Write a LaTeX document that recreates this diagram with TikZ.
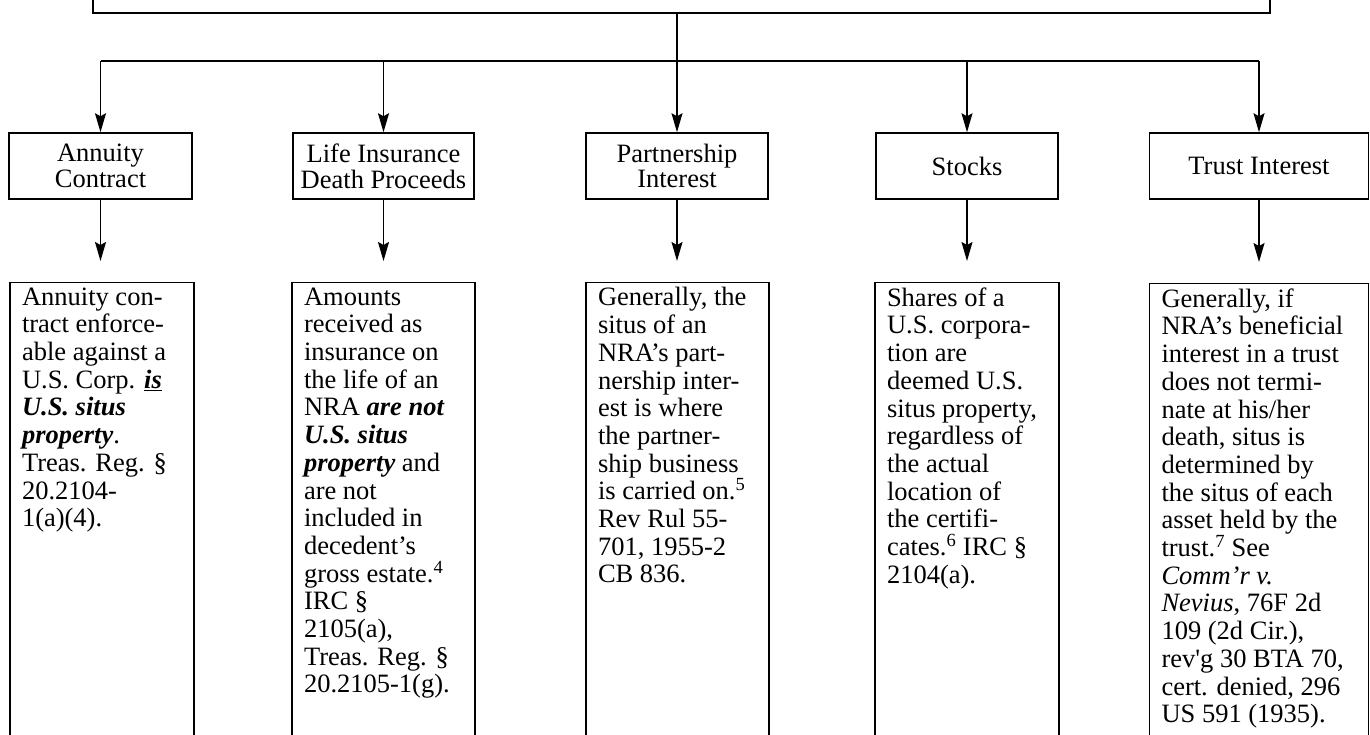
\documentclass[tikz,border=0pt]{standalone}
\usepackage{fontspec}
\setmainfont{Liberation Serif}
\usetikzlibrary{arrows.meta}

\tikzset{
  etiqueta/.style={draw, line width=1.5pt, minimum height=66pt, inner sep=0pt, align=center, font=\fontsize{26.5pt}{25.8pt}\selectfont},
  texto/.style={draw, line width=1.2pt, anchor=north, inner xsep=12pt, inner ysep=5pt, font=\fontsize{26.5pt}{27.7pt}\selectfont},
  flecha/.style={line width=1.3pt, -{Stealth[length=19pt, width=11pt, inset=3pt]}},
  linea/.style={line width=1.3pt}
}

\begin{document}
\begin{tikzpicture}[x=1pt, y=-1pt]
  \useasboundingbox (0,0) rectangle (1370,734);
  \clip (0,0) rectangle (1370,734);

  % Caja superior (cortada por el borde)
  \node[draw, line width=1.8pt, minimum width=1177pt, minimum height=100pt, anchor=south] (raiz) at (681.5,14) {};

  % Barra de reparto
  \coordinate (bus) at (0,61);

  % Categorias
  \node[etiqueta, minimum width=183pt] (anualidad) at (100.5,166) {Annuity\\Contract};
  \node[etiqueta, minimum width=181pt] (seguro) at (383.5,166) {Life Insurance\\Death Proceeds};
  \node[etiqueta, minimum width=182pt] (sociedad) at (677,166) {Partnership\\Interest};
  \node[etiqueta, minimum width=182pt] (acciones) at (967,166) {Stocks};
  \node[etiqueta, minimum width=219pt] (fideicomiso) at (1259,166) {Trust Interest};

  % Textos
  \node[texto] (anualidadtxt) at (102,282) {\parbox[t][460pt][t]{160pt}{\raggedright
    Annuity con-\\ tract enforce-\\ able against a\\
    U.S. Corp. \underline{\textbf{\textit{is}}}\\ \textbf{\textit{U.S. situs}}\\
    \textbf{\textit{property}}.\\ Treas. Reg. §\\ 20.2104-\\ 1(a)(4).}};
  \node[texto] (segurotxt) at (383.5,282) {\parbox[t][460pt][t]{159pt}{\raggedright
    Amounts\\ received as\\ insurance on\\ the life of an\\
    NRA \textbf{\textit{are not}}\\ \textbf{\textit{U.S. situs}}\\
    \textbf{\textit{property}} and\\ are not\\ included in\\ decedent’s\\
    gross estate.\textsuperscript{4}\\ IRC §\\ 2105(a),\\ Treas. Reg. §\\ 20.2105-1(g).}};
  \node[texto] (sociedadtxt) at (677.5,282) {\parbox[t][460pt][t]{159pt}{\raggedright
    Generally, the\\ situs of an\\ NRA’s part-\\ nership inter-\\ est is where\\
    the partner-\\ ship business\\ is carried on.\textsuperscript{5}\\
    Rev Rul 55-\\ 701, 1955-2\\ CB 836.}};
  \node[texto] (accionestxt) at (967,282) {\parbox[t][460pt][t]{160pt}{\raggedright
    Shares of a\\ U.S. corpora-\\ tion are\\ deemed U.S.\\ situs property,\\
    regardless of\\ the actual\\ location of\\ the certifi-\\
    cates.\textsuperscript{6} IRC §\\ 2104(a).}};
  \node[texto] (fideicomisotxt) at (1259,283) {\parbox[t][460pt][t]{195pt}{\raggedright
    Generally, if\\ NRA’s beneficial\\ interest in a trust\\ does not termi-\\
    nate at his/her\\ death, situs is\\ determined by\\ the situs of each\\
    asset held by the\\ trust.\textsuperscript{7} See\\ \textit{Comm’r v.}\\
    \textit{Nevius}, 76F 2d\\ 109 (2d Cir.),\\ rev\textquotesingle g 30 BTA 70,\\
    cert. denied, 296\\ US 591 (1935).}};

  % Conectores superiores
  \draw[linea] (anualidad.north |- bus) -- (fideicomiso.north |- bus);
  \draw[flecha] (raiz.south -| sociedad.north) -- (sociedad.north);
  \draw[flecha] (anualidad.north |- bus) -- (anualidad.north);
  \draw[flecha] (seguro.north |- bus) -- (seguro.north);
  \draw[flecha] (acciones.north |- bus) -- (acciones.north);
  \draw[flecha] (fideicomiso.north |- bus) -- (fideicomiso.north);

  % Conectores inferiores
  \draw[flecha, shorten >=21pt] (anualidad.south) -- (anualidad.south |- anualidadtxt.north);
  \draw[flecha, shorten >=21pt] (seguro.south) -- (seguro.south |- segurotxt.north);
  \draw[flecha, shorten >=21pt] (sociedad.south) -- (sociedad.south |- sociedadtxt.north);
  \draw[flecha, shorten >=21pt] (acciones.south) -- (acciones.south |- accionestxt.north);
  \draw[flecha, shorten >=21pt] (fideicomiso.south) -- (fideicomiso.south |- fideicomisotxt.north);
\end{tikzpicture}
\end{document}
